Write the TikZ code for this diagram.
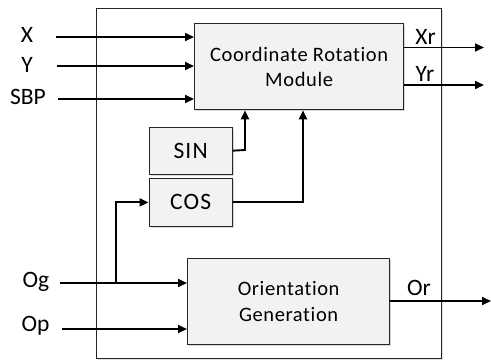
\documentclass[tikz,border=0pt]{standalone}
\usepackage{fontspec}
\setmainfont{Carlito}[Ligatures=NoCommon]
\newfontfamily\boxfont[LetterSpace=3,Ligatures=NoCommon]{Carlito}
\newfontfamily\smallboxfont[LetterSpace=5,Ligatures=NoCommon]{Carlito}
\usetikzlibrary{arrows.meta,shadows,calc}
\definecolor{boxfill}{HTML}{F2F2F2}
\definecolor{boxline}{HTML}{262626}
\tikzset{
  blk/.style={draw=boxline, line width=1.3pt, fill=boxfill, inner sep=0pt,
    anchor=north west, align=center,
    drop shadow={shadow xshift=1.5pt, shadow yshift=-1.5pt, opacity=0.3}},
  frame/.style={draw=boxline, line width=1.4pt, fill=white, inner sep=0pt, anchor=north west,
    drop shadow={shadow xshift=1.5pt, shadow yshift=-1.5pt, opacity=0.25}},
  sig/.style={font=\fontsize{23.5}{27}\selectfont, anchor=base, inner sep=0pt},
  arr/.style={line width=1.9pt, -{Triangle[length=9pt,width=8pt]}}
}
\begin{document}
\begin{tikzpicture}[x=1pt,y=-1pt]
  \useasboundingbox (0,0) rectangle (491,360);

  % enclosing block
  \node[frame, minimum width=345pt, minimum height=350pt] (outer) at (96,8) {};

  % functional blocks
  \node[blk, minimum width=209pt, minimum height=86pt,
        font=\boxfont\fontsize{20.5}{25}\selectfont] (rot) at (194,23)
        {Coordinate Rotation\\Module};
  \node[blk, minimum width=83pt, minimum height=47pt,
        font=\smallboxfont\fontsize{23.5}{26}\selectfont] (sin) at (148.5,126.5) {SIN};
  \node[blk, minimum width=83pt, minimum height=48.5pt,
        font=\smallboxfont\fontsize{23.5}{26}\selectfont] (cos) at (148.5,177.5) {COS};
  \node[blk, minimum width=202pt, minimum height=86pt,
        font=\boxfont\fontsize{20.5}{25.5}\selectfont] (ori) at (187,258)
        {Orientation\\Generation};

  % signal names
  \node[sig] (lX)   at (27,42.7)  {X};
  \node[sig] (lY)   at (27,72.7)  {Y};
  \node[sig] (lSBP) at (28,104)   {SBP};
  \node[sig] (lOg)  at (36,287.7) {Og};
  \node[sig] (lOp)  at (35.5,331.7) {Op};
  \node[sig] (lXr)  at (425.5,44) {Xr};
  \node[sig] (lYr)  at (425,81)   {Yr};
  \node[sig] (lOr)  at (419,295.7) {Or};

  % free ends of the external wires
  \coordinate (inX)   at (56,37);
  \coordinate (inY)   at (57,66);
  \coordinate (inSBP) at (58,99);
  \coordinate (inOg)  at (60,283);
  \coordinate (inOp)  at (62,329);
  \coordinate (outXr) at (484,47.5);
  \coordinate (outYr) at (484,85);
  \coordinate (outOr) at (491,301);
  \coordinate (tap)   at (116,283);

  % inputs
  \draw[arr] (inX)   -- (inX -| rot.west);
  \draw[arr] (inY)   -- (inY -| rot.west);
  \draw[arr] (inSBP) -- (inSBP -| rot.west);
  \draw[arr] (inOg)  -- (inOg -| ori.west);
  \draw[arr] (inOp)  -- (inOp -| ori.west);

  % outputs
  \draw[arr] (rot.east |- outXr) -- (outXr);
  \draw[arr] (rot.east |- outYr) -- (outYr);
  \draw[arr] (ori.east |- outOr) -- (outOr);

  % internal connections
  \draw[arr] (sin.east) -- (245,150) -- (245,0 |- rot.south);
  \draw[arr] (cos.east) -- (303,0 |- cos.east) -- (303,0 |- rot.south);
  \draw[arr] (tap) -- (tap |- cos.west) -- (cos.west);
\end{tikzpicture}
\end{document}
